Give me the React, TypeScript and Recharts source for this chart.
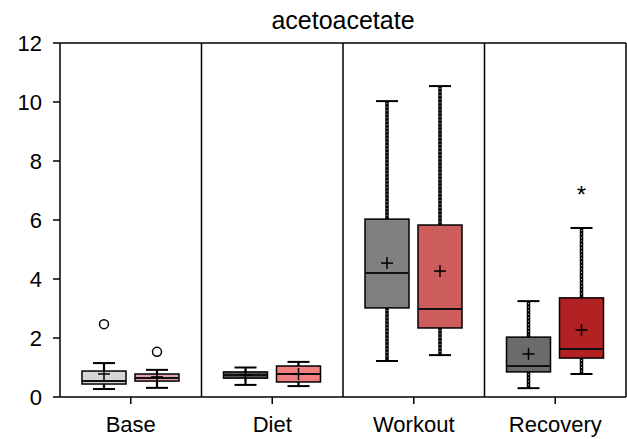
import React from 'react';
import { ComposedChart, Bar, XAxis, YAxis, CartesianGrid, ReferenceLine } from 'recharts';

// ---------------------------------------------------------------------------
// Data
// ---------------------------------------------------------------------------

const categories = ['Base', 'Diet', 'Workout', 'Recovery'];

const greyLow = [0.27, 0.41, 1.22, 0.3];
const greyQ1 = [0.44, 0.64, 3.02, 0.85];
const greyMedian = [0.54, 0.75, 4.2, 1.05];
const greyQ3 = [0.88, 0.85, 6.03, 2.03];
const greyHigh = [1.15, 1.0, 10.03, 3.25];
const greyMean = [0.78, 0.75, 4.54, 1.46];
const greyOutliers = [[2.47], [], [], []];
const greyStars: (number | null)[] = [null, null, null, null];

const redLow = [0.31, 0.37, 1.42, 0.78];
const redQ1 = [0.54, 0.51, 2.34, 1.32];
const redMedian = [0.64, 0.78, 2.98, 1.63];
const redQ3 = [0.78, 1.05, 5.83, 3.36];
const redHigh = [0.92, 1.19, 10.54, 5.73];
const redMean = [0.68, 0.78, 4.27, 2.27];
const redOutliers = [[1.53], [], [], []];
const redStars: (number | null)[] = [null, null, null, 7.0];

const yTicks = [0, 2, 4, 6, 8, 10, 12];

// ---------------------------------------------------------------------------
// Styles
// ---------------------------------------------------------------------------

const greyColors = ['#d6d6d6', '#555555', '#808080', '#6b6b6b'];
const redColors = ['#e3a3ac', '#f08080', '#cd5c5c', '#b22222'];
const dottedWhiskers = [false, false, true, true];

const FONT = '"Liberation Sans", Arial, sans-serif';

type Stats = {
  low: number;
  q1: number;
  median: number;
  q3: number;
  high: number;
  mean: number;
  outliers: number[];
  star: number | null;
  color: string;
};

const chartData = categories.map((name, i) => ({
  name,
  grey: {
    low: greyLow[i],
    q1: greyQ1[i],
    median: greyMedian[i],
    q3: greyQ3[i],
    high: greyHigh[i],
    mean: greyMean[i],
    outliers: greyOutliers[i],
    star: greyStars[i],
    color: greyColors[i],
  } as Stats,
  red: {
    low: redLow[i],
    q1: redQ1[i],
    median: redMedian[i],
    q3: redQ3[i],
    high: redHigh[i],
    mean: redMean[i],
    outliers: redOutliers[i],
    star: redStars[i],
    color: redColors[i],
  } as Stats,
  dotted: dottedWhiskers[i],
}));

// ---------------------------------------------------------------------------
// Box shape: the bar spans [low, high]; other values mapped linearly within it
// ---------------------------------------------------------------------------

function makeBoxShape(key: 'grey' | 'red') {
  return function BoxShape(props: any) {
    const { x, y, width, height, payload } = props;
    const s: Stats = payload[key];
    const top = Math.min(y, y + height);
    const bottom = Math.max(y, y + height);
    const span = s.high - s.low;
    const py = (v: number) => bottom - ((v - s.low) / span) * (bottom - top);
    const cx = x + width / 2;
    const cap = width / 2;
    const boxTop = py(s.q3);
    const boxBottom = py(s.q1);
    const whiskerWidth = payload.dotted ? 3.5 : 2.2;

    return (
      <g>
        {/* whiskers */}
        <line x1={cx} x2={cx} y1={py(s.high)} y2={boxTop} stroke="#000" strokeWidth={whiskerWidth} />
        <line x1={cx} x2={cx} y1={boxBottom} y2={py(s.low)} stroke="#000" strokeWidth={whiskerWidth} />
        {payload.dotted && (
          <>
            <line x1={cx} x2={cx} y1={py(s.high) + 2} y2={boxTop - 2} stroke="#fff" strokeWidth={0.8} strokeDasharray="1 2.5" />
            <line x1={cx} x2={cx} y1={boxBottom + 2} y2={py(s.low) - 2} stroke="#fff" strokeWidth={0.8} strokeDasharray="1 2.5" />
          </>
        )}
        <line x1={cx - cap / 2} x2={cx + cap / 2} y1={py(s.high)} y2={py(s.high)} stroke="#000" strokeWidth={2} />
        <line x1={cx - cap / 2} x2={cx + cap / 2} y1={py(s.low)} y2={py(s.low)} stroke="#000" strokeWidth={2} />
        {/* box */}
        <rect x={x} y={boxTop} width={width} height={boxBottom - boxTop} fill={s.color} stroke="#000" strokeWidth={1.5} />
        {/* median */}
        <line x1={x} x2={x + width} y1={py(s.median)} y2={py(s.median)} stroke="#111" strokeWidth={2} />
        {/* mean */}
        <line x1={cx - 6} x2={cx + 6} y1={py(s.mean)} y2={py(s.mean)} stroke="#000" strokeWidth={1.5} />
        <line x1={cx} x2={cx} y1={py(s.mean) - 6} y2={py(s.mean) + 6} stroke="#000" strokeWidth={1.5} />
        {/* outliers */}
        {s.outliers.map((o, i) => (
          <circle key={i} cx={cx} cy={py(o)} r={4.5} fill="#fff" stroke="#000" strokeWidth={1.5} />
        ))}
        {s.star !== null && (
          <text x={cx} y={py(s.star) + 12} textAnchor="middle" fontSize={24} fontFamily={FONT} fill="#000">
            *
          </text>
        )}
      </g>
    );
  };
}

const GreyBox = makeBoxShape('grey');
const RedBox = makeBoxShape('red');

// ---------------------------------------------------------------------------
// Main Component
// ---------------------------------------------------------------------------

export default function App() {
  return (
    <div style={{ position: 'relative', width: 627, height: 439, fontFamily: FONT }}>
      <style>{'body{margin:0;background:#fff}'}</style>
      <svg width={627} height={40} style={{ position: 'absolute', left: 0, top: 0 }}>
        <text x={343} y={29} textAnchor="middle" fontSize={25} fontFamily={FONT} fill="#000">
          acetoacetate
        </text>
      </svg>
      <ComposedChart
        width={627}
        height={439}
        data={chartData}
        margin={{ top: 43, right: 1, left: 0, bottom: 0 }}
        barSize={44}
        barGap={9}
      >
        <CartesianGrid
          horizontal={false}
          stroke="#000"
          strokeWidth={1.5}
          verticalCoordinatesGenerator={({ offset }: any) =>
            [1, 2, 3, 4].map((i) => offset.left + (i * offset.width) / 4)
          }
        />
        <ReferenceLine y={12} stroke="#000" strokeWidth={1.5} />
        <XAxis
          dataKey="name"
          tick={{ fill: '#000', fontSize: 22, fontFamily: FONT }}
          tickLine={{ stroke: '#000', strokeWidth: 1.5 }}
          axisLine={{ stroke: '#000', strokeWidth: 1.5 }}
          tickSize={7}
          tickMargin={12}
          height={42}
        />
        <YAxis
          domain={[0, 12]}
          ticks={yTicks}
          tick={{ fill: '#000', fontSize: 22, fontFamily: FONT }}
          tickLine={{ stroke: '#000', strokeWidth: 1.5 }}
          axisLine={{ stroke: '#000', strokeWidth: 1.5 }}
          tickSize={7}
          tickMargin={11}
          width={60}
          allowDataOverflow
        />
        <Bar dataKey={(d: any) => [d.grey.low, d.grey.high]} shape={GreyBox} isAnimationActive={false} />
        <Bar dataKey={(d: any) => [d.red.low, d.red.high]} shape={RedBox} isAnimationActive={false} />
      </ComposedChart>
    </div>
  );
}
